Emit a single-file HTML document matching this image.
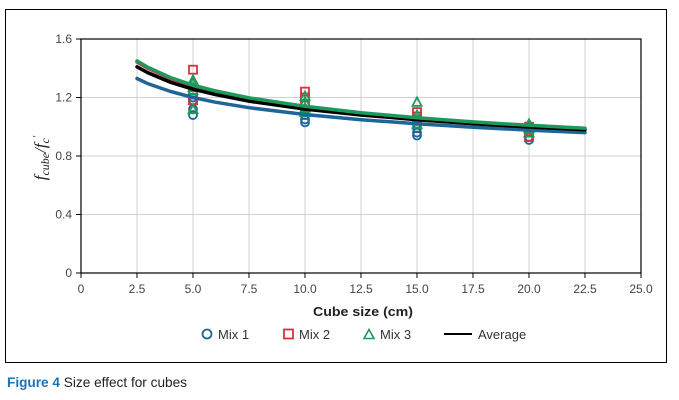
<!DOCTYPE html>
<html><head><meta charset="utf-8"><style>
body{margin:0;background:#fff;width:679px;height:400px;overflow:hidden;font-family:"Liberation Sans",sans-serif}
svg{display:block}
</style></head><body>
<svg id="chart" width="679" height="400" xmlns="http://www.w3.org/2000/svg">
<rect x="5.5" y="9.5" width="661" height="353" fill="none" stroke="#000" stroke-width="1"/>
<g id="grid"></g><g id="axes"></g><g id="series"></g>
<text x="363" y="316" text-anchor="middle" font-size="13" font-weight="bold" fill="#222" textLength="100" lengthAdjust="spacingAndGlyphs">Cube size (cm)</text>
<text transform="translate(46,158) rotate(-90)" text-anchor="middle" font-family="Liberation Serif,serif" font-style="italic" font-size="17" fill="#222">f<tspan font-size="12" dy="3">cube</tspan><tspan dy="-3">/f</tspan><tspan font-size="12" dy="3">c</tspan><tspan dy="-9" font-size="11">′</tspan></text>
<g>
<g><circle cx="207" cy="334" r="4.5" fill="none" stroke="#1f6598" stroke-width="1.8"/><text x="218" y="339" font-size="13" fill="#333">Mix 1</text></g>
<g><rect x="284" y="329.5" width="9" height="9" fill="none" stroke="#d4323c" stroke-width="1.8"/><text x="299" y="339" font-size="13" fill="#333">Mix 2</text></g>
<g><path d="M369,329.5 L374,338.5 L364,338.5 Z" fill="none" stroke="#1d9a5b" stroke-width="1.6"/><text x="380" y="339" font-size="13" fill="#333">Mix 3</text></g>
<g><line x1="444" y1="334" x2="472" y2="334" stroke="#000" stroke-width="2"/><text x="478" y="339" font-size="13" fill="#333">Average</text></g>
</g>
<text x="7" y="387" font-size="14" fill="#222" textLength="180" lengthAdjust="spacingAndGlyphs"><tspan font-weight="bold" fill="#1b73b6">Figure 4</tspan> Size effect for cubes</text>
</svg>
<script>
const xTicks=[0,2.5,5,7.5,10,12.5,15,17.5,20,22.5,25];
const xTickLabels=["0","2.5","5.0","7.5","10.0","12.5","15.0","17.5","20.0","22.5","25.0"];
const yTicks=[0,0.4,0.8,1.2,1.6];
const yTickLabels=["0","0.4","0.8","1.2","1.6"];
const curveX=[2.5,3,4,5,6,7.5,10,12.5,15,17.5,20,22.5];
const mix1Curve=[1.33,1.294,1.241,1.200,1.168,1.130,1.084,1.048,1.020,0.997,0.977,0.96];
const mix2Curve=[1.443,1.398,1.329,1.279,1.239,1.192,1.134,1.091,1.056,1.028,1.005,0.985];
const mix3Curve=[1.45,1.405,1.336,1.285,1.245,1.198,1.140,1.096,1.061,1.033,1.010,0.99];
const avgCurve=[1.41,1.368,1.304,1.257,1.220,1.175,1.121,1.080,1.048,1.021,0.998,0.98];
const mix1X=[5,5,5,5,10,10,10,10,15,15,15,15,20,20,20,20];
const mix1Y=[1.08,1.12,1.18,1.2,1.03,1.05,1.08,1.12,0.94,0.96,0.99,1.02,0.91,0.93,0.96,1.0];
const mix2X=[5,5,5,10,10,10,15,15,15,20,20,20];
const mix2Y=[1.39,1.18,1.22,1.24,1.2,1.15,1.1,1.07,1.04,0.93,0.97,1.0];
const mix3X=[5,5,5,5,5,10,10,10,10,15,15,15,15,20,20,20];
const mix3Y=[1.32,1.3,1.27,1.25,1.12,1.21,1.17,1.13,1.1,1.17,1.08,1.05,1.02,1.02,0.99,0.96];
const X0=81,X1=641,Y0=273,Y1=39;
const sx=v=>X0+(v-0)/(25-0)*(X1-X0);
const sy=v=>Y0-(v-0)/(1.6-0)*(Y0-Y1);
const NS="http://www.w3.org/2000/svg";
function mk(tag,attrs,parent){const e=document.createElementNS(NS,tag);for(const k in attrs)e.setAttribute(k,attrs[k]);parent.appendChild(e);return e;}
const grid=document.getElementById('grid'),axes=document.getElementById('axes'),series=document.getElementById('series');
xTicks.forEach((t,i)=>{
  const g=mk('line',{x1:sx(t),x2:sx(t),y1:Y1,y2:Y0,stroke:'#d0d0d0','stroke-width':1},grid);
  
  
  const tk=mk('line',{x1:sx(t),x2:sx(t),y1:Y0,y2:Y0+5,stroke:'#000','stroke-width':1},axes);
  
  
  const l=mk('text',{x:sx(t),y:Y0+20,'text-anchor':'middle','font-size':12,fill:'#444'},axes);
  l.textContent=xTickLabels[i];
  
  
});
yTicks.forEach((t,i)=>{
  const g=mk('line',{x1:X0,x2:X1,y1:sy(t),y2:sy(t),stroke:'#d0d0d0','stroke-width':1},grid);
  
  
  const tk=mk('line',{x1:X0-5,x2:X0,y1:sy(t),y2:sy(t),stroke:'#000','stroke-width':1},axes);
  
  
  const l=mk('text',{x:X0-9,y:sy(t)+4,'text-anchor':'end','font-size':12,fill:'#444'},axes);
  l.textContent=yTickLabels[i];
  
  
});
const box=mk('rect',{x:X0,y:Y1,width:X1-X0,height:Y0-Y1,fill:'none',stroke:'#000','stroke-width':1.2},axes);


function curve(vals,color,w,name){
  const d=curveX.map((x,i)=>(i?'L':'M')+sx(x).toFixed(1)+','+sy(vals[i]).toFixed(1)).join(' ');
  const p=mk('path',{d:d,fill:'none',stroke:color,'stroke-width':w,'stroke-linecap':'round'},series);
  
  
}
function pts(xs,ys,shape,color,name){
  xs.forEach((x,i)=>{
    const cx=sx(x),cy=sy(ys[i]);let e;
    if(shape==='c')e=mk('circle',{cx:cx,cy:cy,r:4,fill:'none',stroke:color,'stroke-width':1.8},series);
    else if(shape==='s')e=mk('rect',{x:cx-4,y:cy-4,width:8,height:8,fill:'none',stroke:color,'stroke-width':1.8},series);
    else e=mk('path',{d:`M${cx},${cy-4.5} L${cx+4.5},${cy+4} L${cx-4.5},${cy+4} Z`,fill:'none',stroke:color,'stroke-width':1.8},series);
    
    
  });
}
pts(mix1X,mix1Y,'c','#1f6598','mix1-point');
pts(mix2X,mix2Y,'s','#d4323c','mix2-point');
pts(mix3X,mix3Y,'t','#1d9a5b','mix3-point');
curve(mix1Curve,'#1f6598',3.5,'mix1-trendline');
curve(mix2Curve,'#d4323c',3.5,'mix2-trendline');
curve(avgCurve,'#000',3.5,'average-trendline');
curve(mix3Curve,'#1d9a5b',3.5,'mix3-trendline');
</script>
</body></html>
